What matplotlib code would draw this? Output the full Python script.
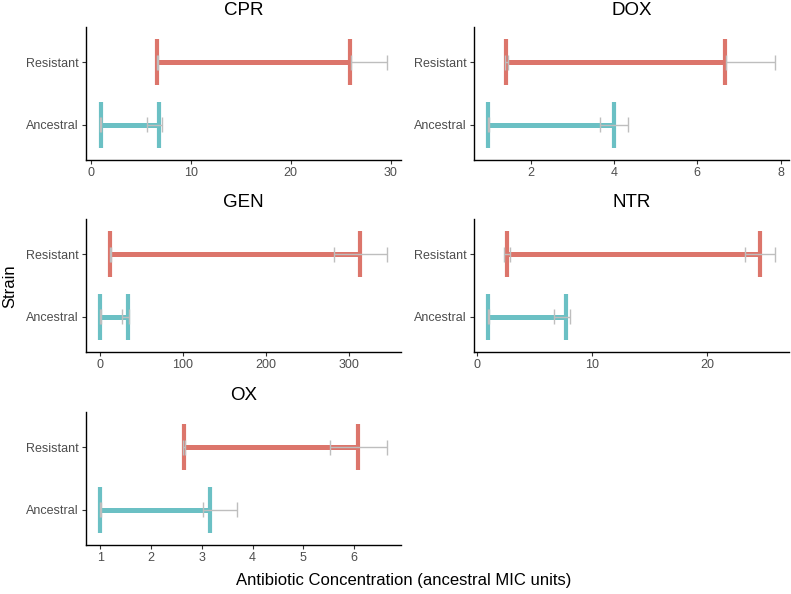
import numpy as np
from matplotlib import pyplot as plt

plt.rcParams['font.family'] = ['Liberation Sans', 'DejaVu Sans']

# values
drugs = ["CPR", "DOX", "GEN", "NTR", "OX"]
strains = ["Ancestral", "Resistant"]

# start / end of each coloured range: [ancestral, resistant]
range_start = {
    "CPR": [1.0, 6.67],
    "DOX": [0.98, 1.41],
    "GEN": [0.8, 12.8],
    "NTR": [1.0, 2.6],
    "OX": [1.0, 2.65],
}
range_end = {
    "CPR": [6.8, 25.9],
    "DOX": [4.0, 6.66],
    "GEN": [34.0, 313.0],
    "NTR": [7.77, 24.6],
    "OX": [3.16, 6.08],
}
# grey error bars around the start point (lo, hi)
start_err = {
    "CPR": [(0.98, 1.02), (6.62, 6.72)],
    "DOX": [(0.98, 1.0), (1.38, 1.45)],
    "GEN": [(0.8, 1.2), (12.0, 13.5)],
    "NTR": [(1.0, 1.05), (2.35, 2.85)],
    "OX": [(1.0, 1.02), (2.63, 2.67)],
}
# grey error bars around the end point (lo, hi)
end_err = {
    "CPR": [(5.67, 7.1), (26.0, 29.6)],
    "DOX": [(3.66, 4.33), (6.68, 7.86)],
    "GEN": [(27.0, 35.0), (282.0, 345.0)],
    "NTR": [(6.67, 8.06), (23.3, 25.9)],
    "OX": [(3.03, 3.69), (5.53, 6.64)],
}
x_ticks = {
    "CPR": [0, 10, 20, 30],
    "DOX": [2, 4, 6, 8],
    "GEN": [0, 100, 200, 300],
    "NTR": [0, 10, 20],
    "OX": [1, 2, 3, 4, 5, 6],
}
colors = ["#6BC0C4", "#DC756B"]
grey = "#BEBEBE"

W, H = 791, 594
fig = plt.figure(figsize=(W / 100, H / 100), dpi=100)

col_left = [86, 474]
col_width = 315
row_top = [27, 219, 412]
row_height = 133

for i, drug in enumerate(drugs):
    r, c = divmod(i, 2)
    left = col_left[c] / W
    bottom = 1 - (row_top[r] + row_height) / H
    ax = fig.add_axes([left, bottom, col_width / W, row_height / H])

    for k, strain in enumerate(strains):
        y = k + 1
        s, e = range_start[drug][k], range_end[drug][k]
        ax.hlines(y, s, e, color=colors[k], lw=3.6, zorder=2)
        ax.vlines([s, e], y - 0.37, y + 0.37, color=colors[k], lw=3.0, zorder=2)
        for lo, hi in (start_err[drug][k], end_err[drug][k]):
            ax.hlines(y, lo, hi, color=grey, lw=1.0, zorder=3)
            ax.vlines([lo, hi], y - 0.12, y + 0.12, color=grey, lw=1.0, zorder=3)

    vals = [v for k in range(2) for v in (*start_err[drug][k], *end_err[drug][k],
                                          range_start[drug][k], range_end[drug][k])]
    lo, hi = min(vals), max(vals)
    pad = 0.05 * (hi - lo)
    ax.set_xlim(lo - pad, hi + pad)
    ax.set_ylim(0.435, 2.565)
    ax.set_xticks(x_ticks[drug])
    ax.set_yticks([1, 2])
    ax.set_yticklabels(strains)

    for side in ("top", "right"):
        ax.spines[side].set_visible(False)
    for side in ("left", "bottom"):
        ax.spines[side].set_linewidth(1.0)
    ax.tick_params(axis="both", length=3, width=0.8, color="#333333",
                   labelsize=9, labelcolor="#4D4D4D", pad=2)
    ax.set_title(drug, fontsize=13.5, pad=8.5)

fig.text(404 / W, 1 - 580 / H, "Antibiotic Concentration (ancestral MIC units)",
         ha="center", va="center", fontsize=12)
fig.text(10 / W, 1 - 286 / H, "Strain", ha="center", va="center", rotation=90, fontsize=12)

fig.savefig("out.png", dpi=100)
